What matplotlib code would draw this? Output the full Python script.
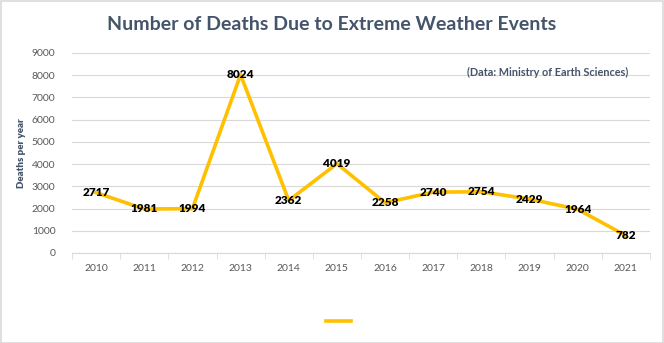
import matplotlib
matplotlib.use("Agg")
import matplotlib.pyplot as plt
from matplotlib.patches import Rectangle

years = ["2010", "2011", "2012", "2013", "2014", "2015", "2016", "2017", "2018", "2019", "2020", "2021"]
deaths = [2717, 1981, 1994, 8024, 2362, 4019, 2258, 2740, 2754, 2429, 1964, 782]
yticks = [0, 1000, 2000, 3000, 4000, 5000, 6000, 7000, 8000, 9000]

plt.rcParams["font.family"] = ["Lato", "DejaVu Sans"]

W, H = 664, 343
fig = plt.figure(figsize=(W / 100, H / 100), dpi=100)
fig.patch.set_facecolor("white")

ax = fig.add_axes([72 / W, 1 - 253 / H, (650 - 72) / W, 200 / H])
x = list(range(len(years)))
line, = ax.plot(x, deaths, color="#FFC000", lw=2.6, solid_joinstyle="round", zorder=3)

for xi, v in zip(x, deaths):
    ax.text(xi, v, str(v), ha="center", va="center", fontsize=8.5, fontweight="heavy",
            color="black", zorder=4)

ax.set_xlim(-0.5, len(years) - 0.5)
ax.set_ylim(0, 9000)
ax.set_yticks(yticks)
ax.set_yticklabels([str(t) for t in yticks], fontsize=7.5, color="#595959")
ax.set_xticks(x)
ax.set_xticklabels(years, fontsize=7.5, color="#595959")
ax.tick_params(axis="x", which="major", length=0, pad=8)
ax.tick_params(axis="y", length=0, pad=12)
ax.set_xticks([i + 0.5 for i in range(-1, len(years))], minor=True)
ax.tick_params(axis="x", which="minor", length=4, color="#D9D9D9", direction="out")

ax.grid(axis="y", color="#D9D9D9", lw=0.8)
ax.set_axisbelow(True)
for s in ["top", "right", "left"]:
    ax.spines[s].set_visible(False)
ax.spines["bottom"].set_color("#D9D9D9")
ax.spines["bottom"].set_linewidth(0.8)

ax.set_ylabel("Deaths per year", fontsize=7, fontweight="heavy", color="#44546A", labelpad=4)

fig.text(332 / W, 1 - 24 / H, "Number of Deaths Due to Extreme Weather Events",
         ha="center", va="center", fontsize=14, fontweight="bold", color="#44546A")
fig.text(548 / W, 1 - 72 / H, "(Data: Ministry of Earth Sciences)",
         ha="center", va="center", fontsize=7.8, fontweight="bold", color="#44546A")

leg = fig.legend([line], [""], loc="center", bbox_to_anchor=(338 / W, 1 - 322 / H),
                 frameon=False, handlelength=1.8, handletextpad=0)

fig.patches.append(Rectangle((0.5 / W, 0.5 / H), 1 - 1.5 / W, 1 - 1.5 / H, transform=fig.transFigure,
                             fill=False, edgecolor="#D9D9D9", lw=1.2))

fig.savefig("out.png", dpi=100)
